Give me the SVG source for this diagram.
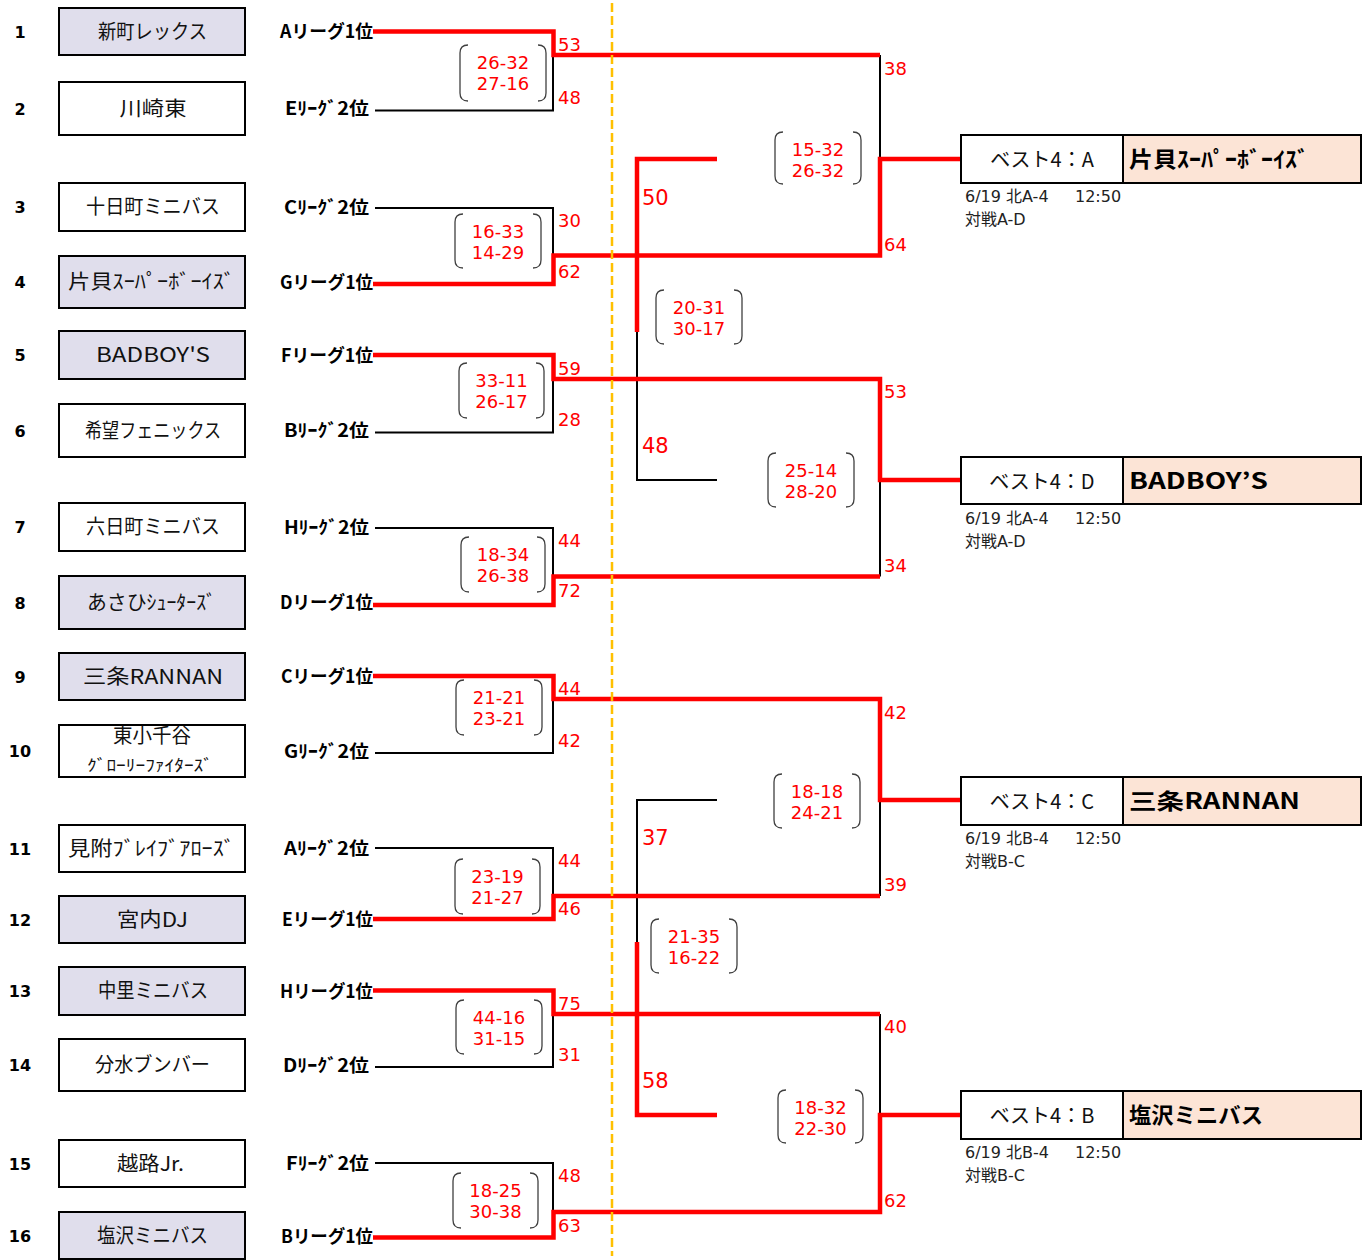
<svg xmlns="http://www.w3.org/2000/svg" width="1362" height="1260" viewBox="0 0 1362 1260">
<style>
.box{stroke:#000;stroke-width:2}
.w{fill:#fff}
.s{fill:#E0DEEC}
.num{font-family:"DejaVu Sans",sans-serif;font-weight:bold;font-size:16px;text-anchor:middle;fill:#000}
.lg{font-family:"Noto Sans CJK JP",sans-serif;font-weight:bold;font-size:18px;text-anchor:end;fill:#000}
.nm{font-family:"Noto Sans CJK JP",sans-serif;font-size:20px;text-anchor:middle;fill:#111}
.sc{font-family:"DejaVu Sans",sans-serif;font-size:18px;fill:#f00}
.big{font-family:"DejaVu Sans",sans-serif;font-size:21px;fill:#f00}
.pr{font-family:"DejaVu Sans",sans-serif;font-size:18px;fill:#f00;text-anchor:middle}
.br{fill:none;stroke:#404040;stroke-width:1.3}
.red{fill:none;stroke:#f00;stroke-width:4.5;stroke-linejoin:miter}
.blk{fill:none;stroke:#000;stroke-width:2}
.b4{font-family:"Noto Sans CJK JP",sans-serif;font-size:20px;text-anchor:middle;fill:#111}
.b4n{font-family:"Noto Sans CJK JP",sans-serif;font-weight:bold;font-size:22px;fill:#000}
.sub{font-family:"DejaVu Sans","Noto Sans CJK JP",sans-serif;font-size:16px;fill:#222}
</style>

<g id="connectors">
  <path class="blk" d="M375,110.5 H553 V55"/>
  <path class="blk" d="M375,208 H553 V255.5"/>
  <path class="blk" d="M880,55 V159"/>
  <path class="blk" d="M375,432.5 H553 V379"/>
  <path class="blk" d="M375,528 H553 V576.5"/>
  <path class="blk" d="M880,480 V576.5"/>
  <path class="blk" d="M375,753 H553 V699"/>
  <path class="blk" d="M375,848 H553 V896"/>
  <path class="blk" d="M880,800 V896"/>
  <path class="blk" d="M375,1067 H553 V1014"/>
  <path class="blk" d="M375,1163 H553 V1212"/>
  <path class="blk" d="M880,1014 V1115"/>
  <path class="blk" d="M637,332 V480 H717"/>
  <path class="blk" d="M717,800 H637 V942"/>
  <path class="red" d="M373,31.5 H553.5 V55 H880"/>
  <path class="red" d="M373,284 H553.5 V255.5 H880 V159 H961"/>
  <path class="red" d="M373,355 H553.5 V379 H880 V480 H961"/>
  <path class="red" d="M373,605 H553.5 V576.5 H880"/>
  <path class="red" d="M373,676 H553.5 V699 H880 V800 H961"/>
  <path class="red" d="M373,919 H553.5 V896 H880"/>
  <path class="red" d="M373,990.5 H553.5 V1014 H880"/>
  <path class="red" d="M373,1237.5 H553.5 V1212 H880 V1115 H961"/>
  <path class="red" d="M717,159 H637 V332"/>
  <path class="red" d="M637,942 V1115 H717"/>
  <line x1="612" y1="3" x2="612" y2="1256" stroke="#FFC000" stroke-width="2.5" stroke-dasharray="9,4"/>
</g>

<g id="team1"><text class="num" x="20" y="37.5">1</text><rect class="box s" x="59" y="8" width="186" height="47"/><text class="nm" x="152.5" y="38.5" textLength="109" lengthAdjust="spacingAndGlyphs">新町レックス</text><text class="lg" x="373" y="38" textLength="93" lengthAdjust="spacingAndGlyphs">Aリーグ1位</text></g>
<g id="team2"><text class="num" x="20" y="114.5">2</text><rect class="box w" x="59" y="82" width="186" height="53"/><text class="nm" x="153" y="115.5" textLength="67" lengthAdjust="spacingAndGlyphs">川崎東</text><text class="lg" x="369" y="115" textLength="84" lengthAdjust="spacingAndGlyphs">Eﾘｰｸﾞ2位</text></g>
<g id="team3"><text class="num" x="20" y="213">3</text><rect class="box w" x="59" y="183" width="186" height="48"/><text class="nm" x="153" y="214" textLength="134" lengthAdjust="spacingAndGlyphs">十日町ミニバス</text><text class="lg" x="369" y="214" textLength="85" lengthAdjust="spacingAndGlyphs">Cﾘｰｸﾞ2位</text></g>
<g id="team4"><text class="num" x="20" y="288">4</text><rect class="box s" x="59" y="256" width="186" height="52"/><text class="nm" x="151.5" y="288.5" textLength="167" lengthAdjust="spacingAndGlyphs">片貝ｽｰﾊﾟｰﾎﾞｰｲｽﾞ</text><text class="lg" x="373" y="288.5" textLength="93" lengthAdjust="spacingAndGlyphs">Gリーグ1位</text></g>
<g id="team5"><text class="num" x="20" y="361">5</text><rect class="box s" x="59" y="331" width="186" height="48"/><text class="nm" x="153" y="362" textLength="114" lengthAdjust="spacingAndGlyphs">BADBOY'S</text><text class="lg" x="373" y="361.5" textLength="92" lengthAdjust="spacingAndGlyphs">Fリーグ1位</text></g>
<g id="team6"><text class="num" x="20" y="436.5">6</text><rect class="box w" x="59" y="404" width="186" height="53"/><text class="nm" x="153" y="437.5" textLength="136" lengthAdjust="spacingAndGlyphs">希望フェニックス</text><text class="lg" x="369" y="437" textLength="85" lengthAdjust="spacingAndGlyphs">Bﾘｰｸﾞ2位</text></g>
<g id="team7"><text class="num" x="20" y="533">7</text><rect class="box w" x="59" y="503" width="186" height="48"/><text class="nm" x="153" y="534" textLength="134" lengthAdjust="spacingAndGlyphs">六日町ミニバス</text><text class="lg" x="369" y="533.5" textLength="85" lengthAdjust="spacingAndGlyphs">Hﾘｰｸﾞ2位</text></g>
<g id="team8"><text class="num" x="20" y="608.5">8</text><rect class="box s" x="59" y="576" width="186" height="53"/><text class="nm" x="151.5" y="609.5" textLength="129" lengthAdjust="spacingAndGlyphs">あさひｼｭｰﾀｰｽﾞ</text><text class="lg" x="373" y="609" textLength="93" lengthAdjust="spacingAndGlyphs">Dリーグ1位</text></g>
<g id="team9"><text class="num" x="20" y="682.5">9</text><rect class="box s" x="59" y="653" width="186" height="47"/><text class="nm" x="153" y="683.5" textLength="140" lengthAdjust="spacingAndGlyphs">三条RANNAN</text><text class="lg" x="373" y="683" textLength="92" lengthAdjust="spacingAndGlyphs">Cリーグ1位</text></g>
<g id="team10"><text class="num" x="20" y="757">10</text><rect class="box w" x="59" y="725" width="186" height="52"/><text class="nm" x="152" y="743" textLength="78" lengthAdjust="spacingAndGlyphs">東小千谷</text><text class="nm" x="150" y="771" style="font-size:16px" textLength="126" lengthAdjust="spacingAndGlyphs">ｸﾞﾛｰﾘｰﾌｧｲﾀｰｽﾞ</text><text class="lg" x="369" y="757.5" textLength="85" lengthAdjust="spacingAndGlyphs">Gﾘｰｸﾞ2位</text></g>
<g id="team11"><text class="num" x="20" y="854.5">11</text><rect class="box w" x="59" y="825" width="186" height="47"/><text class="nm" x="151.5" y="855.5" textLength="167" lengthAdjust="spacingAndGlyphs">見附ﾌﾞﾚｲﾌﾞｱﾛｰｽﾞ</text><text class="lg" x="369" y="855" textLength="85" lengthAdjust="spacingAndGlyphs">Aﾘｰｸﾞ2位</text></g>
<g id="team12"><text class="num" x="20" y="925.5">12</text><rect class="box s" x="59" y="896" width="186" height="47"/><text class="nm" x="152.5" y="926.5" textLength="71" lengthAdjust="spacingAndGlyphs">宮内DJ</text><text class="lg" x="373" y="926" textLength="91" lengthAdjust="spacingAndGlyphs">Eリーグ1位</text></g>
<g id="team13"><text class="num" x="20" y="997">13</text><rect class="box s" x="59" y="967" width="186" height="48"/><text class="nm" x="153" y="998" textLength="110" lengthAdjust="spacingAndGlyphs">中里ミニバス</text><text class="lg" x="373" y="997.5" textLength="93" lengthAdjust="spacingAndGlyphs">Hリーグ1位</text></g>
<g id="team14"><text class="num" x="20" y="1071">14</text><rect class="box w" x="59" y="1039" width="186" height="52"/><text class="nm" x="152.5" y="1072" textLength="115" lengthAdjust="spacingAndGlyphs">分水ブンバー</text><text class="lg" x="369" y="1071.5" textLength="86" lengthAdjust="spacingAndGlyphs">Dﾘｰｸﾞ2位</text></g>
<g id="team15"><text class="num" x="20" y="1169.5">15</text><rect class="box w" x="59" y="1140" width="186" height="47"/><text class="nm" x="150.5" y="1170.5" textLength="67" lengthAdjust="spacingAndGlyphs">越路Jr.</text><text class="lg" x="369" y="1170" textLength="83" lengthAdjust="spacingAndGlyphs">Fﾘｰｸﾞ2位</text></g>
<g id="team16"><text class="num" x="20" y="1242">16</text><rect class="box s" x="59" y="1212" width="186" height="47"/><text class="nm" x="152.5" y="1243" textLength="111" lengthAdjust="spacingAndGlyphs">塩沢ミニバス</text><text class="lg" x="373" y="1243" textLength="92" lengthAdjust="spacingAndGlyphs">Bリーグ1位</text></g>

<g id="match1"><path class="br" d="M468,45 Q460,45 460,53 V93 Q460,101 468,101 M538,45 Q546,45 546,53 V93 Q546,101 538,101"/><text class="pr" x="503" y="68.5">26-32</text><text class="pr" x="503" y="90">27-16</text><text class="sc" x="558" y="51">53</text><text class="sc" x="558" y="104">48</text></g>
<g id="match2"><path class="br" d="M463,214 Q455,214 455,222 V260 Q455,268 463,268 M533,214 Q541,214 541,222 V260 Q541,268 533,268"/><text class="pr" x="498" y="237.5">16-33</text><text class="pr" x="498" y="259">14-29</text><text class="sc" x="558" y="227">30</text><text class="sc" x="558" y="278">62</text></g>
<g id="match3"><path class="br" d="M467,363 Q459,363 459,371 V410 Q459,418 467,418 M536,363 Q544,363 544,371 V410 Q544,418 536,418"/><text class="pr" x="501.5" y="386.5">33-11</text><text class="pr" x="501.5" y="408">26-17</text><text class="sc" x="558" y="375">59</text><text class="sc" x="558" y="426">28</text></g>
<g id="match4"><path class="br" d="M469,537 Q461,537 461,545 V584 Q461,592 469,592 M537,537 Q545,537 545,545 V584 Q545,592 537,592"/><text class="pr" x="503" y="560.5">18-34</text><text class="pr" x="503" y="582">26-38</text><text class="sc" x="558" y="547">44</text><text class="sc" x="558" y="597">72</text></g>
<g id="match5"><path class="br" d="M464,680 Q456,680 456,688 V727 Q456,735 464,735 M534,680 Q542,680 542,688 V727 Q542,735 534,735"/><text class="pr" x="499" y="703.5">21-21</text><text class="pr" x="499" y="725">23-21</text><text class="sc" x="558" y="695">44</text><text class="sc" x="558" y="747">42</text></g>
<g id="match6"><path class="br" d="M463,859 Q455,859 455,867 V906 Q455,914 463,914 M532,859 Q540,859 540,867 V906 Q540,914 532,914"/><text class="pr" x="497.5" y="882.5">23-19</text><text class="pr" x="497.5" y="904">21-27</text><text class="sc" x="558" y="867">44</text><text class="sc" x="558" y="915">46</text></g>
<g id="match7"><path class="br" d="M464,1000 Q456,1000 456,1008 V1046 Q456,1054 464,1054 M534,1000 Q542,1000 542,1008 V1046 Q542,1054 534,1054"/><text class="pr" x="499" y="1023.5">44-16</text><text class="pr" x="499" y="1045">31-15</text><text class="sc" x="558" y="1010">75</text><text class="sc" x="558" y="1061">31</text></g>
<g id="match8"><path class="br" d="M461,1173 Q453,1173 453,1181 V1220 Q453,1228 461,1228 M530,1173 Q538,1173 538,1181 V1220 Q538,1228 530,1228"/><text class="pr" x="495.5" y="1196.5">18-25</text><text class="pr" x="495.5" y="1218">30-38</text><text class="sc" x="558" y="1182">48</text><text class="sc" x="558" y="1232">63</text></g>

<g id="matchA"><path class="br" d="M783,132 Q775,132 775,140 V176 Q775,184 783,184 M853,132 Q861,132 861,140 V176 Q861,184 853,184"/><text class="pr" x="818" y="155.5">15-32</text><text class="pr" x="818" y="177">26-32</text><text class="sc" x="884" y="75">38</text><text class="sc" x="884" y="251">64</text></g>
<g id="matchD"><path class="br" d="M776,453 Q768,453 768,461 V499 Q768,507 776,507 M846,453 Q854,453 854,461 V499 Q854,507 846,507"/><text class="pr" x="811" y="476.5">25-14</text><text class="pr" x="811" y="498">28-20</text><text class="sc" x="884" y="398">53</text><text class="sc" x="884" y="572">34</text></g>
<g id="matchC"><path class="br" d="M782,774 Q774,774 774,782 V820 Q774,828 782,828 M852,774 Q860,774 860,782 V820 Q860,828 852,828"/><text class="pr" x="817" y="797.5">18-18</text><text class="pr" x="817" y="819">24-21</text><text class="sc" x="884" y="719">42</text><text class="sc" x="884" y="891">39</text></g>
<g id="matchB"><path class="br" d="M786,1090 Q778,1090 778,1098 V1135 Q778,1143 786,1143 M855,1090 Q863,1090 863,1098 V1135 Q863,1143 855,1143"/><text class="pr" x="820.5" y="1113.5">18-32</text><text class="pr" x="820.5" y="1135">22-30</text><text class="sc" x="884" y="1033">40</text><text class="sc" x="884" y="1207">62</text></g>

<g id="matchMidTop"><path class="br" d="M664,290 Q656,290 656,298 V336 Q656,344 664,344 M734,290 Q742,290 742,298 V336 Q742,344 734,344"/><text class="pr" x="699" y="313.5">20-31</text><text class="pr" x="699" y="335">30-17</text><text class="big" x="642" y="205">50</text><text class="big" x="642" y="453">48</text></g>
<g id="matchMidBottom"><path class="br" d="M659,919 Q651,919 651,927 V965 Q651,973 659,973 M729,919 Q737,919 737,927 V965 Q737,973 729,973"/><text class="pr" x="694" y="942.5">21-35</text><text class="pr" x="694" y="964">16-22</text><text class="big" x="642" y="845">37</text><text class="big" x="642" y="1088">58</text></g>

<g id="best4A"><rect x="1123" y="135" width="238" height="48" fill="#FCE4D6"/><rect class="box" x="961" y="135" width="400" height="48" fill="none"/><line x1="1123" y1="135" x2="1123" y2="183" stroke="#000" stroke-width="2"/><text class="b4" x="1042" y="167">ベスト4：A</text><text class="b4n" x="1129" y="167" textLength="180" lengthAdjust="spacingAndGlyphs">片貝ｽｰﾊﾟｰﾎﾞｰｲｽﾞ</text><text class="sub" x="965" y="202">6/19 北A-4</text><text class="sub" x="1075" y="202">12:50</text><text class="sub" x="965" y="225">対戦A-D</text></g>
<g id="best4D"><rect x="1123" y="457" width="238" height="47" fill="#FCE4D6"/><rect class="box" x="961" y="457" width="400" height="47" fill="none"/><line x1="1123" y1="457" x2="1123" y2="504" stroke="#000" stroke-width="2"/><text class="b4" x="1042" y="489">ベスト4：D</text><text class="b4n" x="1129" y="489" textLength="139" lengthAdjust="spacingAndGlyphs">BADBOY’S</text><text class="sub" x="965" y="524">6/19 北A-4</text><text class="sub" x="1075" y="524">12:50</text><text class="sub" x="965" y="547">対戦A-D</text></g>
<g id="best4C"><rect x="1123" y="777" width="238" height="48" fill="#FCE4D6"/><rect class="box" x="961" y="777" width="400" height="48" fill="none"/><line x1="1123" y1="777" x2="1123" y2="825" stroke="#000" stroke-width="2"/><text class="b4" x="1042" y="809">ベスト4：C</text><text class="b4n" x="1129" y="809" textLength="171" lengthAdjust="spacingAndGlyphs">三条RANNAN</text><text class="sub" x="965" y="844">6/19 北B-4</text><text class="sub" x="1075" y="844">12:50</text><text class="sub" x="965" y="867">対戦B-C</text></g>
<g id="best4B"><rect x="1123" y="1091" width="238" height="48" fill="#FCE4D6"/><rect class="box" x="961" y="1091" width="400" height="48" fill="none"/><line x1="1123" y1="1091" x2="1123" y2="1139" stroke="#000" stroke-width="2"/><text class="b4" x="1042" y="1123">ベスト4：B</text><text class="b4n" x="1129" y="1123" textLength="134" lengthAdjust="spacingAndGlyphs">塩沢ミニバス</text><text class="sub" x="965" y="1158">6/19 北B-4</text><text class="sub" x="1075" y="1158">12:50</text><text class="sub" x="965" y="1181">対戦B-C</text></g>
</svg>
